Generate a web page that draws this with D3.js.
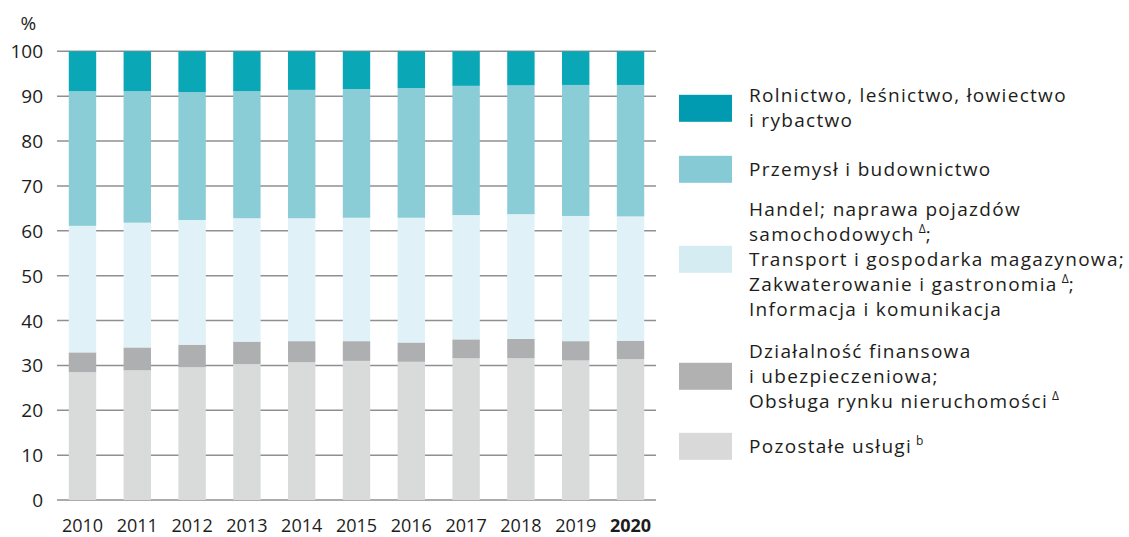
<!DOCTYPE html>
<html>
<head>
<meta charset="utf-8">
<script src="https://cdn.jsdelivr.net/npm/d3@7"></script>
<style>
  body { margin: 0; background: #fff; }
  svg text { font-family: "Open Sans", sans-serif; fill: #1d1d1b; }
</style>
</head>
<body>
<div id="chart"></div>
<script>
var years = ["2010", "2011", "2012", "2013", "2014", "2015", "2016", "2017", "2018", "2019", "2020"];

// udział w wartości dodanej brutto, %
var rolnictwo = [8.9, 8.9, 9.1, 8.9, 8.6, 8.4, 8.2, 7.7, 7.6, 7.5, 7.5];
var przemysl  = [30.0, 29.3, 28.5, 28.3, 28.6, 28.7, 28.9, 28.8, 28.7, 29.2, 29.3];
var handel    = [28.2, 27.8, 27.8, 27.5, 27.4, 27.5, 27.8, 27.7, 27.8, 27.9, 27.7];
var finanse   = [4.4, 5.1, 5.0, 5.0, 4.7, 4.4, 4.3, 4.2, 4.3, 4.3, 4.1];
var pozostale = [28.5, 28.9, 29.6, 30.3, 30.7, 31.0, 30.8, 31.6, 31.6, 31.1, 31.4];

var yTicks = [0, 10, 20, 30, 40, 50, 60, 70, 80, 90, 100];

// legend lines; each line is a list of [text, superscript]
var legendRolnictwo = [[["Rolnictwo, leśnictwo, łowiectwo", ""]], [["i rybactwo", ""]]];
var legendPrzemysl = [[["Przemysł i budownictwo", ""]]];
var legendHandel = [
  [["Handel; naprawa pojazdów", ""]],
  [["samochodowych", "Δ"], [";", ""]],
  [["Transport i gospodarka magazynowa;", ""]],
  [["Zakwaterowanie i gastronomia", "Δ"], [";", ""]],
  [["Informacja i komunikacja", ""]]
];
var legendFinanse = [
  [["Działalność finansowa", ""]],
  [["i ubezpieczeniowa;", ""]],
  [["Obsługa rynku nieruchomości", "Δ"]]
];
var legendPozostale = [[["Pozostałe usługi", "b"]]];

var keys = ["pozostale", "finanse", "handel", "przemysl", "rolnictwo"];
var barColors = {
  rolnictwo: "#0aa8b7",
  przemysl: "#8bcdd7",
  handel: "#e0f2f8",
  finanse: "#aeafb1",
  pozostale: "#d9dada"
};
var swatchColors = {
  rolnictwo: "#009bb0",
  przemysl: "#86cad5",
  handel: "#d5ecf2",
  finanse: "#b1b1b1",
  pozostale: "#d9d9d9"
};

var table = years.map(function(y, i) {
  return {
    year: y,
    rolnictwo: rolnictwo[i],
    przemysl: przemysl[i],
    handel: handel[i],
    finanse: finanse[i],
    pozostale: pozostale[i]
  };
});

var width = 1129, height = 537;

var svg = d3.select("#chart").append("svg")
    .attr("width", width)
    .attr("height", height);

var x = d3.scaleBand()
    .domain(years)
    .range([57, 656])
    .paddingInner(0.5)
    .paddingOuter(0.215);

var y = d3.scaleLinear()
    .domain([0, 100])
    .range([500, 51.3]);

// grid
svg.append("g")
  .selectAll("line")
  .data(yTicks)
  .enter().append("line")
    .attr("x1", 57)
    .attr("x2", 656)
    .attr("y1", function(d) { return y(d); })
    .attr("y2", function(d) { return y(d); })
    .attr("stroke", "#8f8f8f")
    .attr("stroke-width", 1.5);

// y labels
svg.append("g")
  .selectAll("text")
  .data(yTicks)
  .enter().append("text")
    .attr("x", 43)
    .attr("y", function(d) { return y(d); })
    .attr("dy", "0.37em")
    .attr("text-anchor", "end")
    .style("font-size", "19px")
    .text(function(d) { return d; });

svg.append("text")
    .attr("x", 20.5)
    .attr("y", 30)
    .style("font-size", "19px")
    .text("%");

// bars
var series = d3.stack().keys(keys)(table);

svg.append("g")
  .selectAll("g")
  .data(series)
  .enter().append("g")
    .attr("fill", function(d) { return barColors[d.key]; })
  .selectAll("rect")
  .data(function(d) { return d; })
  .enter().append("rect")
    .attr("x", function(d) { return x(d.data.year); })
    .attr("width", x.bandwidth())
    .attr("y", function(d) { return y(d[1]); })
    .attr("height", function(d) { return y(d[0]) - y(d[1]); });

// x labels
svg.append("g")
  .selectAll("text")
  .data(years)
  .enter().append("text")
    .attr("x", function(d) { return x(d) + x.bandwidth() / 2; })
    .attr("y", 531.5)
    .attr("text-anchor", "middle")
    .style("font-size", "18px")
    .style("font-weight", function(d) { return d === "2020" ? "bold" : "normal"; })
    .text(function(d) { return d; });

// legend
var legendItems = [
  {key: "rolnictwo", lines: legendRolnictwo, cy: 108.3},
  {key: "przemysl", lines: legendPrzemysl, cy: 169.3},
  {key: "handel", lines: legendHandel, cy: 259.3},
  {key: "finanse", lines: legendFinanse, cy: 376.3},
  {key: "pozostale", lines: legendPozostale, cy: 446.3}
];
var lineH = 25;

var legend = svg.append("g")
  .selectAll("g")
  .data(legendItems)
  .enter().append("g");

legend.append("rect")
    .attr("x", 679)
    .attr("y", function(d) { return d.cy - 13.5; })
    .attr("width", 53)
    .attr("height", 27)
    .attr("fill", function(d) { return swatchColors[d.key]; });

legend.each(function(d) {
  var g = d3.select(this);
  var first = d.cy + 6.5 - (d.lines.length - 1) * lineH / 2;
  d.lines.forEach(function(line, i) {
    var t = g.append("text")
        .attr("x", 749)
        .attr("y", first + i * lineH)
        .style("font-size", "19px")
        .style("letter-spacing", "1.3px");
    var back = 0;
    line.forEach(function(seg) {
      var s = t.append("tspan").text(seg[0]);
      if (back) { s.attr("dy", back); back = 0; }
      if (seg[1]) {
        t.append("tspan")
            .attr("dx", 4)
            .attr("dy", -8)
            .style("font-size", "12px")
            .style("letter-spacing", "0px")
            .text(seg[1]);
        back = 8;
      }
    });
  });
});
</script>
</body>
</html>
